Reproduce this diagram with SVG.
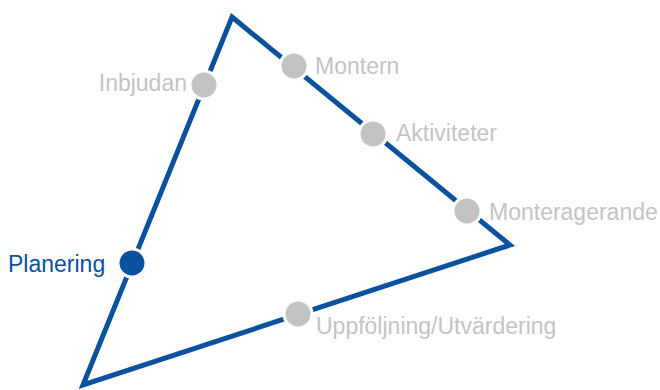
<svg xmlns="http://www.w3.org/2000/svg" width="660" height="390" viewBox="0 0 660 390">
<style>
.lbl{font-family:"Liberation Sans",Arial,sans-serif;font-size:23px;fill:#c3c3c3}
.blue{fill:#0a519e}
.halo{fill:#ffffff}
.dot{fill:#c3c3c3}
.dotb{fill:#0a519e}
</style>
<rect width="660" height="390" fill="#ffffff"/>
<g id="connectors">
<polygon points="232,17 510,245 83,385" fill="none" stroke="#0a519e" stroke-width="5" stroke-linejoin="miter" stroke-miterlimit="10"/>
</g>
<g id="inbjudan"><circle class="halo" cx="204" cy="85" r="15.5"/><circle class="dot" cx="204" cy="85" r="12.5"/><text class="lbl" x="187" y="91" text-anchor="end">Inbjudan</text></g>
<g id="montern"><circle class="halo" cx="294" cy="66" r="15.5"/><circle class="dot" cx="294" cy="66" r="12.5"/><text class="lbl" x="315" y="74">Montern</text></g>
<g id="aktiviteter"><circle class="halo" cx="373" cy="134" r="15.5"/><circle class="dot" cx="373" cy="134" r="12.5"/><text class="lbl" x="396" y="141">Aktiviteter</text></g>
<g id="monteragerande"><circle class="halo" cx="467" cy="211" r="15.5"/><circle class="dot" cx="467" cy="211" r="12.5"/><text class="lbl" x="489" y="220">Monteragerande</text></g>
<g id="planering"><circle class="halo" cx="132" cy="263" r="15.5"/><circle class="dotb" cx="132" cy="263" r="12.5"/><text class="lbl blue" x="8" y="272">Planering</text></g>
<g id="uppfoljning"><circle class="halo" cx="298" cy="314" r="15.5"/><circle class="dot" cx="298" cy="314" r="12.5"/><text class="lbl" x="316" y="334">Uppföljning/Utvärdering</text></g>
</svg>
